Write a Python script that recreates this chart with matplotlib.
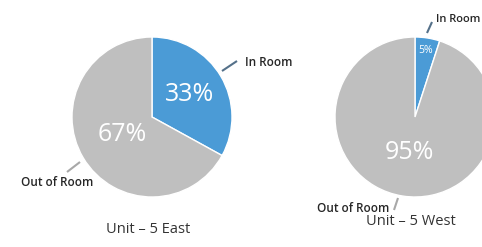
import matplotlib
matplotlib.use("Agg")
import matplotlib.pyplot as plt
import numpy as np

categories = ["In Room", "Out of Room"]
east_values = [33, 67]
west_values = [5, 95]
titles = ["Unit – 5 East", "Unit – 5 West"]
colors = ["#4B9BD6", "#BFBFBF"]
leader_colors = ["#55718A", "#A8A8A8"]

W, H = 482, 247
fig = plt.figure(figsize=(W / 100, H / 100), dpi=100)
ax = fig.add_axes([0, 0, 1, 1])
ax.set_xlim(0, W)
ax.set_ylim(0, H)
ax.axis("off")

def Y(y):
    return H - y

pies = [
    dict(values=east_values, center=(152, Y(117)), title=titles[0], title_pos=(148, Y(229)),
         pct_dist=[0.55, 0.43], pct_size=[18, 18],
         leaders=[((222, 71), (237, 61)), ((67, 172), (80, 162))],
         label_pos=[(245, 62, "left", 8.5), (57, 183, "center", 8.5)]),
    dict(values=west_values, center=(415, Y(117)), title=titles[1], title_pos=(411, Y(221.5)),
         pct_dist=[0.84, 0.45], pct_size=[7.5, 18],
         leaders=[((427, 33), (432, 22)), ((394, 210), (398, 198))],
         label_pos=[(436, 20, "left", 8.0), (353, 208.5, "center", 8.5)]),
]

R = 80
for p in pies:
    wedges, _ = ax.pie(p["values"], colors=colors, startangle=90, counterclock=False,
                       center=p["center"], radius=R, frame=True,
                       wedgeprops=dict(edgecolor="white", linewidth=1.0))
    cx, cy = p["center"]
    for i, w in enumerate(wedges):
        mid = np.deg2rad((w.theta1 + w.theta2) / 2)
        d = p["pct_dist"][i] * R
        ax.text(cx + d * np.cos(mid), cy + d * np.sin(mid), f"{p['values'][i]}%",
                ha="center", va="center", color="white", fontsize=p["pct_size"][i],
                family="Open Sans", fontweight="normal")
    for i, ((x1, y1), (x2, y2)) in enumerate(p["leaders"]):
        ax.plot([x1, x2], [Y(y1), Y(y2)], color=leader_colors[i], lw=1.5, solid_capstyle="butt")
    for i, (lx, ly, ha, fs) in enumerate(p["label_pos"]):
        ax.text(lx, Y(ly), categories[i], ha=ha, va="center", fontsize=fs,
                family="Open Sans", fontweight="semibold", color="#262626")
    tx, ty = p["title_pos"]
    ax.text(tx, ty, p["title"], ha="center", va="center", fontsize=10.5,
            family="Open Sans", color="#333333")

ax.set_xlim(0, W)
ax.set_ylim(0, H)
ax.set_aspect("auto")
fig.savefig("out.png", dpi=100, facecolor="white")
